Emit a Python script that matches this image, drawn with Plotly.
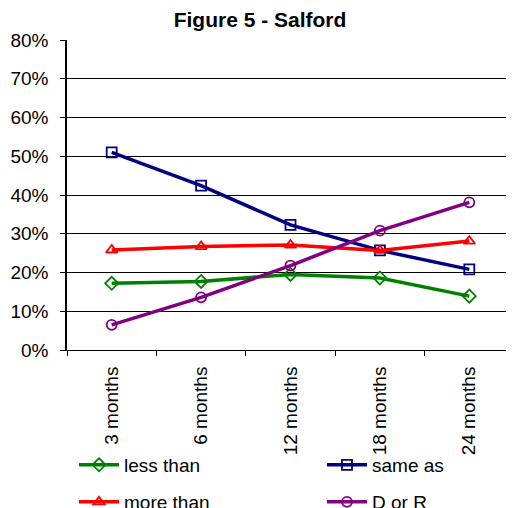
import plotly.graph_objects as go

categories = ["3 months", "6 months", "12 months", "18 months", "24 months"]
less_than = [0.172, 0.177, 0.195, 0.186, 0.139]
same_as = [0.510, 0.424, 0.323, 0.257, 0.208]
more_than = [0.258, 0.267, 0.271, 0.257, 0.281]
d_or_r = [0.065, 0.136, 0.218, 0.308, 0.381]
y_ticks = [0, 0.1, 0.2, 0.3, 0.4, 0.5, 0.6, 0.7, 0.8]
y_tick_text = ["0%", "10%", "20%", "30%", "40%", "50%", "60%", "70%", "80%"]

FONT = "Liberation Sans, Arial, sans-serif"
W, H = 506, 500  # page body adds an 8px offset

series = [
    ("less than", less_than, "#008000", "diamond-open", "legend"),
    ("same as", same_as, "#000080", "square-open", "legend2"),
    ("more than", more_than, "#FF0000", "triangle-up-open", "legend3"),
    ("D or R", d_or_r, "#800080", "circle-open", "legend4"),
]

fig = go.Figure()
for name, vals, col, sym, lg in series:
    fig.add_trace(go.Scatter(
        x=categories, y=vals, name=name, mode="lines+markers",
        line=dict(color=col, width=3.5),
        marker=dict(symbol=sym, size=10, color=col, line=dict(width=1.8, color=col)),
        legend=lg,
    ))

leg_common = dict(orientation="h", xref="container", yref="container",
                  xanchor="left", yanchor="middle",
                  font=dict(size=19, family=FONT), bgcolor="rgba(0,0,0,0)",
                  itemwidth=40)
col1, col2 = 66 / W, 314 / W
row1, row2 = 1 - 457 / H, 1 - 494 / H

fig.update_layout(
    width=W, height=H,
    margin=dict(l=59, r=0, t=32, b=158),
    paper_bgcolor="white", plot_bgcolor="white",
    font=dict(family=FONT, size=19, color="black"),
    title=dict(text="<b>Figure 5 - Salford</b>", x=252 / W, xanchor="center",
               y=1 - 12 / H, yanchor="middle", font=dict(size=21, family=FONT)),
    showlegend=True,
    legend=dict(leg_common, x=col1, y=row1),
    legend2=dict(leg_common, x=col2, y=row1),
    legend3=dict(leg_common, x=col1, y=row2),
    legend4=dict(leg_common, x=col2, y=row2),
)
fig.update_xaxes(
    type="category", range=[-0.5, 4.5], tickangle=-90, automargin=False,
    showline=True, linecolor="black", linewidth=1,
    ticks="outside", tickson="boundaries", ticklen=5, tickcolor="black",
    showgrid=False, ticklabelstandoff=8, tickfont=dict(size=19, family=FONT),
)
fig.update_yaxes(
    range=[0, 0.8], tickvals=y_ticks, ticktext=y_tick_text, automargin=False,
    showline=True, linecolor="black", linewidth=1.5,
    ticks="outside", ticklen=5, tickcolor="black",
    showgrid=True, gridcolor="black", gridwidth=1, zeroline=False,
    ticklabelstandoff=8, tickfont=dict(size=19, family=FONT),
)

fig.write_html("out.html")
